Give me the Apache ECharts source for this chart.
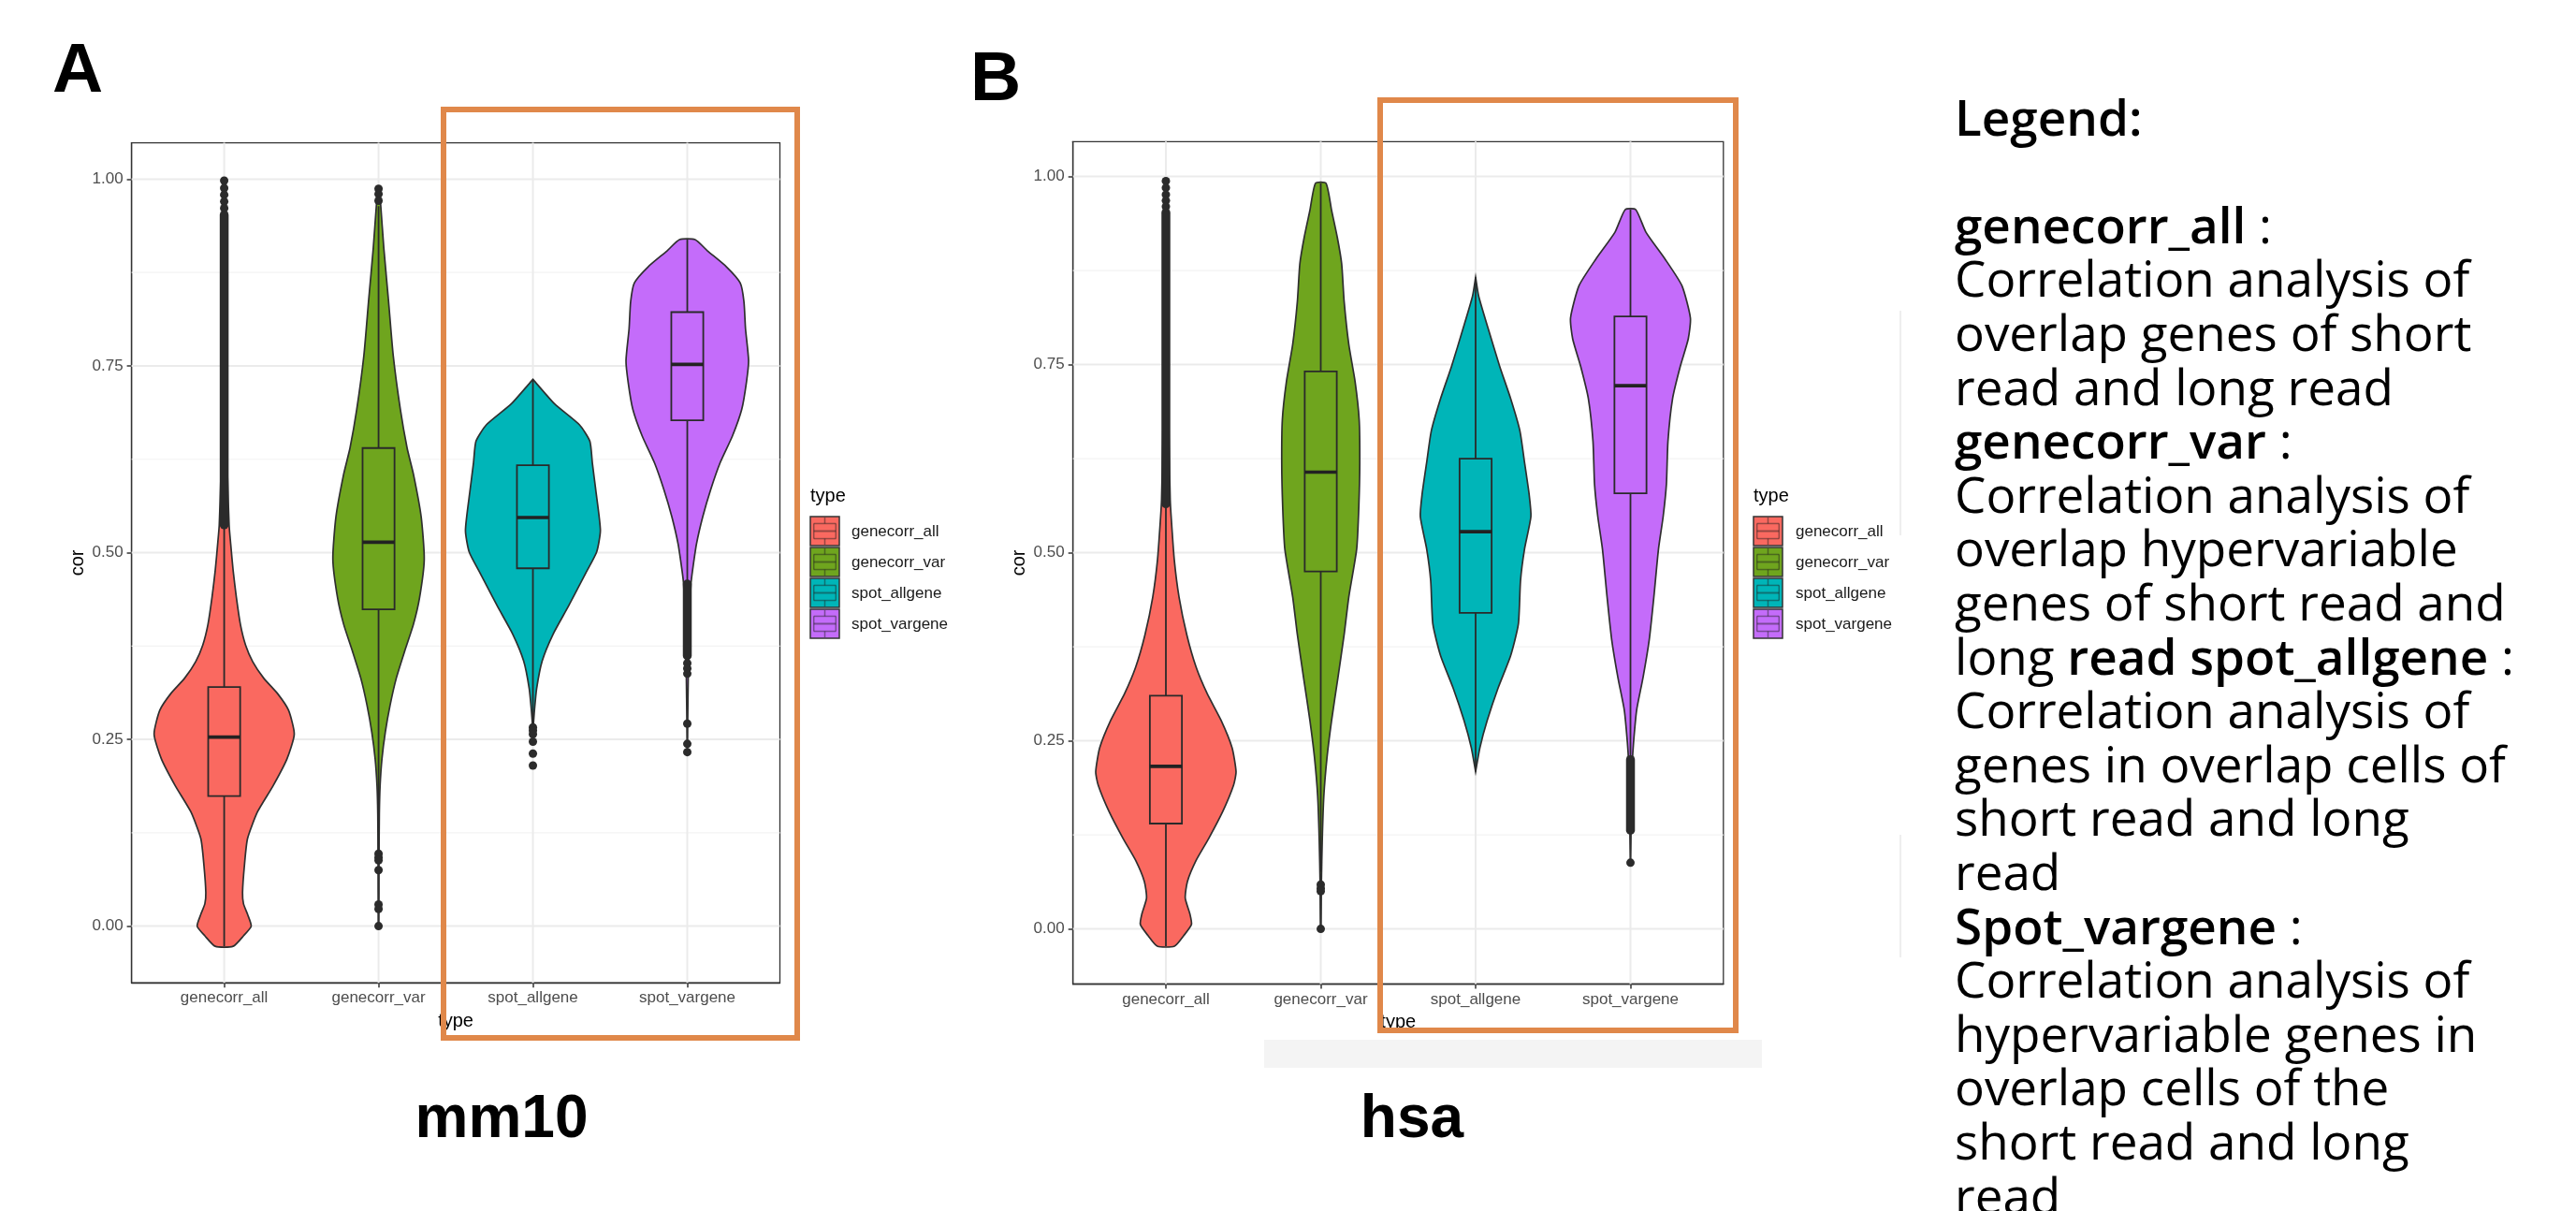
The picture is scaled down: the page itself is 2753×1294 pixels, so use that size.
<!DOCTYPE html>
<html><head><meta charset="utf-8">
<script src="https://cdn.jsdelivr.net/npm/echarts@6/dist/echarts.min.js"></script>
<style>html,body{margin:0;padding:0;background:#fff}#c{width:2753px;height:1294px}</style>
</head><body><div id="c"></div><script>
// ---------- data ----------
const categories = ['genecorr_all', 'genecorr_var', 'spot_allgene', 'spot_vargene'];
const catPos = [1, 2, 3, 4];
const yTicks = [0, 0.25, 0.5, 0.75, 1.0];
const yMinor = [0.125, 0.375, 0.625, 0.875];
const fills = ['#FA6960', '#6FA51E', '#00B5B8', '#C46CFA'];

// violin profiles: [cor, half-width in category units]
// Panel A (mm10)
const vA_genecorr_all = [[-0.027,0.058],[-0.013,0.125],[0.0,0.175],[0.016,0.151],[0.030,0.125],[0.045,0.119],[0.081,0.131],[0.117,0.151],[0.153,0.216],[0.188,0.317],[0.224,0.407],[0.257,0.454],[0.289,0.417],[0.311,0.347],[0.332,0.256],[0.354,0.185],[0.376,0.139],[0.404,0.105],[0.440,0.079],[0.476,0.058],[0.512,0.042],[0.537,0.032],[0.6,0.022],[0.7,0.014],[0.8,0.009],[0.9,0.006],[0.998,0.003]];
const vA_genecorr_var = [[0.0,0.002],[0.09,0.003],[0.15,0.005],[0.188,0.010],[0.224,0.022],[0.26,0.044],[0.296,0.075],[0.332,0.115],[0.368,0.169],[0.404,0.226],[0.44,0.266],[0.491,0.296],[0.548,0.276],[0.605,0.226],[0.64,0.185],[0.692,0.141],[0.764,0.095],[0.836,0.065],[0.908,0.034],[0.965,0.014],[0.987,0.004]];
const vA_spot_allgene = [[0.268,0.002],[0.289,0.010],[0.318,0.024],[0.355,0.060],[0.391,0.131],[0.429,0.232],[0.473,0.343],[0.501,0.413],[0.530,0.437],[0.584,0.407],[0.620,0.385],[0.649,0.369],[0.671,0.302],[0.699,0.141],[0.732,0.0]];
const vA_spot_vargene = [[0.233,0.001],[0.28,0.003],[0.33,0.006],[0.40,0.012],[0.458,0.024],[0.476,0.034],[0.512,0.060],[0.548,0.100],[0.584,0.151],[0.620,0.212],[0.656,0.292],[0.692,0.353],[0.728,0.383],[0.757,0.397],[0.800,0.377],[0.836,0.367],[0.861,0.343],[0.883,0.252],[0.904,0.131],[0.919,0.050]];
// Panel B (hsa)
const vB_genecorr_all = [[-0.023,0.056],[-0.009,0.115],[0.006,0.165],[0.020,0.155],[0.041,0.125],[0.063,0.139],[0.091,0.195],[0.120,0.276],[0.156,0.367],[0.191,0.437],[0.209,0.453],[0.241,0.427],[0.277,0.357],[0.313,0.266],[0.348,0.195],[0.391,0.135],[0.441,0.085],[0.491,0.054],[0.548,0.034],[0.570,0.028],[0.65,0.020],[0.75,0.013],[0.85,0.008],[0.95,0.005],[0.994,0.003]];
const vB_genecorr_var = [[0.0,0.002],[0.059,0.004],[0.12,0.010],[0.177,0.020],[0.227,0.040],[0.277,0.070],[0.334,0.111],[0.391,0.151],[0.441,0.181],[0.505,0.232],[0.562,0.246],[0.620,0.252],[0.677,0.248],[0.727,0.222],[0.777,0.181],[0.834,0.151],[0.884,0.135],[0.919,0.107],[0.955,0.070],[0.991,0.034]];
const vB_spot_allgene = [[0.209,0.0],[0.241,0.028],[0.277,0.075],[0.320,0.145],[0.363,0.226],[0.405,0.276],[0.463,0.290],[0.505,0.316],[0.548,0.357],[0.577,0.346],[0.620,0.316],[0.662,0.286],[0.705,0.226],[0.748,0.155],[0.798,0.081],[0.841,0.020],[0.866,0.0]];
const vB_spot_vargene = [[0.088,0.001],[0.15,0.005],[0.22,0.012],[0.248,0.020],[0.291,0.040],[0.334,0.081],[0.384,0.121],[0.441,0.151],[0.505,0.181],[0.548,0.211],[0.591,0.232],[0.648,0.242],[0.705,0.272],[0.748,0.322],[0.784,0.373],[0.812,0.387],[0.855,0.332],[0.891,0.221],[0.926,0.100],[0.956,0.034]];

// box stats: [lower whisker, Q1, median, Q3, upper whisker]
const boxA = [[-0.027,0.174,0.253,0.320,0.537],[0.10,0.424,0.514,0.640,0.964],[0.27,0.479,0.547,0.617,0.732],[0.46,0.677,0.752,0.822,0.919]];
const boxB = [[-0.023,0.140,0.216,0.310,0.565],[0.076,0.475,0.607,0.741,0.991],[0.209,0.420,0.528,0.625,0.866],[0.226,0.579,0.722,0.814,0.956]];

// outliers: [category position, cor]
const outA = [[1,0.998],[1,0.988],[1,0.979],[1,0.970],[1,0.961],
  [2,0.987],[2,0.980],[2,0.971],[2,0.097],[2,0.092],[2,0.088],[2,0.075],[2,0.029],[2,0.023],[2,0.0],
  [3,0.266],[3,0.262],[3,0.257],[3,0.247],[3,0.231],[3,0.215],
  [4,0.352],[4,0.345],[4,0.338],[4,0.271],[4,0.244],[4,0.233]];
const outB = [[1,0.994],[1,0.985],[1,0.976],[1,0.968],[1,0.960],
  [2,0.059],[2,0.054],[2,0.050],[2,0.0],
  [4,0.088]];
// dense outlier runs: [category position, from, to]
const runA = [[1,0.537,0.952],[4,0.362,0.458]];
const runB = [[1,0.565,0.952],[4,0.131,0.225]];

const legendLines = [
  [['b','Legend:']],
  [],
  [['b','genecorr_all'],['n',' :']],
  [['n','Correlation analysis of']],
  [['n','overlap genes of short']],
  [['n','read and long read']],
  [['b','genecorr_var'],['n',' :']],
  [['n','Correlation analysis of']],
  [['n','overlap hypervariable']],
  [['n','genes of short read and']],
  [['n','long '],['b','read spot_allgene'],['n',' :']],
  [['n','Correlation analysis of']],
  [['n','genes in overlap cells of']],
  [['n','short read and long']],
  [['n','read']],
  [['b','Spot_vargene'],['n',' :']],
  [['n','Correlation analysis of']],
  [['n','hypervariable genes in']],
  [['n','overlap cells of the']],
  [['n','short read and long']],
  [['n','read']]
];

// ---------- chart ----------
const FF = '"Liberation Sans", Arial, Helvetica, sans-serif';
const panels = [
  {grid:{left:140.6, top:152.6, width:692.9, height:897.6}, ymin:-0.0759, ymax:1.0486,
   violins:[vA_genecorr_all,vA_genecorr_var,vA_spot_allgene,vA_spot_vargene], box:boxA, out:outA, run:runA},
  {grid:{left:1146.7, top:151.3, width:695.1, height:900.2}, ymin:-0.0733, ymax:1.0464,
   violins:[vB_genecorr_all,vB_genecorr_var,vB_spot_allgene,vB_spot_vargene], box:boxB, out:outB, run:runB}
];
const BOXW = 0.207;
const grids = [], xAxes = [], yAxes = [], series = [];
panels.forEach((P, p) => {
  grids.push(Object.assign({show:true, borderColor:'#333', borderWidth:1.3, backgroundColor:'#fff', containLabel:false}, P.grid));
  xAxes.push({gridIndex:p, type:'value', min:0.4, max:4.6, name:'type', nameLocation:'middle', nameGap:31,
    nameTextStyle:{fontSize:20, color:'#000', fontFamily:FF},
    axisLine:{show:true, onZero:false, lineStyle:{color:'#333', width:1.3}},
    axisTick:{show:true, length:5, customValues:catPos, lineStyle:{color:'#333', width:1.5}},
    axisLabel:{customValues:catPos, formatter:v=>categories[Math.round(v)-1], fontSize:17, color:'#4d4d4d', margin:8, fontFamily:FF},
    splitLine:{show:false}});
  yAxes.push({gridIndex:p, type:'value', min:P.ymin, max:P.ymax, name:'cor', nameLocation:'middle', nameGap:47, nameRotate:90,
    nameTextStyle:{fontSize:20, color:'#000', fontFamily:FF},
    axisLine:{show:true, onZero:false, lineStyle:{color:'#333', width:1.3}},
    axisTick:{show:true, length:5, customValues:yTicks, lineStyle:{color:'#333', width:1.5}},
    axisLabel:{customValues:yTicks, formatter:v=>v.toFixed(2), fontSize:17, color:'#4d4d4d', margin:9, fontFamily:FF},
    splitLine:{show:false}});
  // grid lines
  series.push({type:'custom', xAxisIndex:p, yAxisIndex:p, z:1, silent:true,
    data: yMinor.map(v=>[1,v]),
    renderItem:(params, api)=>{const cs=params.coordSys; const y=api.coord([1,api.value(1)])[1];
      return {type:'line', shape:{x1:cs.x, y1:y, x2:cs.x+cs.width, y2:y}, style:{stroke:'#F3F3F3', lineWidth:1.2}};}});
  series.push({type:'custom', xAxisIndex:p, yAxisIndex:p, z:1, silent:true,
    data: yTicks.map(v=>[1,v]),
    renderItem:(params, api)=>{const cs=params.coordSys; const y=api.coord([1,api.value(1)])[1];
      return {type:'line', shape:{x1:cs.x, y1:y, x2:cs.x+cs.width, y2:y}, style:{stroke:'#EBEBEB', lineWidth:2}};}});
  series.push({type:'custom', xAxisIndex:p, yAxisIndex:p, z:1, silent:true,
    data: catPos.map(c=>[c,0]),
    renderItem:(params, api)=>{const cs=params.coordSys; const x=api.coord([api.value(0),0])[0];
      return {type:'line', shape:{x1:x, y1:cs.y, x2:x, y2:cs.y+cs.height}, style:{stroke:'#EBEBEB', lineWidth:2}};}});
  // violins
  series.push({type:'custom', xAxisIndex:p, yAxisIndex:p, z:2, silent:true,
    data: catPos.map(c=>[c,0]),
    renderItem:(params, api)=>{
      const prof = P.violins[params.dataIndex]; const cx = api.value(0); const pts = [];
      for (const [v,w] of prof) pts.push(api.coord([cx+w, v]));
      for (let k=prof.length-1;k>=0;k--) pts.push(api.coord([cx-prof[k][1], prof[k][0]]));
      return {type:'polygon', shape:{points:pts, smooth:0.2}, style:{fill:fills[params.dataIndex], stroke:'#2f2f2f', lineWidth:1.7}};
    }});
  // boxes
  series.push({type:'custom', xAxisIndex:p, yAxisIndex:p, z:3, silent:true,
    data: P.box.map((b,i)=>[catPos[i]].concat(b)),
    renderItem:(params, api)=>{
      const cx=api.value(0);
      const lo=api.coord([cx,api.value(1)]), q1=api.coord([cx,api.value(2)]), md=api.coord([cx,api.value(3)]),
            q3=api.coord([cx,api.value(4)]), hi=api.coord([cx,api.value(5)]);
      const hw=api.size([BOXW,0])[0]/2; const col=fills[params.dataIndex]; const st='#2a2a2a';
      return {type:'group', children:[
        {type:'line', shape:{x1:lo[0],y1:lo[1],x2:q1[0],y2:q1[1]}, style:{stroke:st,lineWidth:1.8}},
        {type:'line', shape:{x1:q3[0],y1:q3[1],x2:hi[0],y2:hi[1]}, style:{stroke:st,lineWidth:1.8}},
        {type:'rect', shape:{x:q3[0]-hw, y:q3[1], width:2*hw, height:q1[1]-q3[1]}, style:{fill:col, stroke:st, lineWidth:1.8}},
        {type:'line', shape:{x1:md[0]-hw,y1:md[1],x2:md[0]+hw,y2:md[1]}, style:{stroke:'#222',lineWidth:3.6}}
      ]};
    }});
  // dense outlier runs
  series.push({type:'custom', xAxisIndex:p, yAxisIndex:p, z:4, silent:true,
    data: P.run,
    renderItem:(params, api)=>{
      const a=api.coord([api.value(0),api.value(1)]), b=api.coord([api.value(0),api.value(2)]);
      return {type:'line', shape:{x1:a[0],y1:a[1],x2:b[0],y2:b[1]}, style:{stroke:'#2b2b2b', lineWidth:9.5, lineCap:'round'}};
    }});
  // outlier points
  series.push({type:'scatter', xAxisIndex:p, yAxisIndex:p, z:5, silent:true, data:P.out, symbol:'circle', symbolSize:9,
    itemStyle:{color:'#2b2b2b', opacity:1}});
});

// ---------- graphics ----------
const g = [];
function key(x, y, col) {
  const w=31, h=31, dk='rgba(30,30,30,0.45)';
  const el = [
    {type:'rect', shape:{x:x, y:y, width:w, height:h}, style:{fill:col, stroke:'#333', lineWidth:1.5}},
    {type:'line', shape:{x1:x+w*0.12,y1:y+h*0.24,x2:x+w*0.88,y2:y+h*0.24}, style:{stroke:dk,lineWidth:1.5}},
    {type:'line', shape:{x1:x+w*0.12,y1:y+h*0.5,x2:x+w*0.88,y2:y+h*0.5}, style:{stroke:dk,lineWidth:2}},
    {type:'line', shape:{x1:x+w*0.12,y1:y+h*0.76,x2:x+w*0.88,y2:y+h*0.76}, style:{stroke:dk,lineWidth:1.5}},
    {type:'line', shape:{x1:x+w*0.12,y1:y+h*0.24,x2:x+w*0.12,y2:y+h*0.76}, style:{stroke:dk,lineWidth:1.5}},
    {type:'line', shape:{x1:x+w*0.88,y1:y+h*0.24,x2:x+w*0.88,y2:y+h*0.76}, style:{stroke:dk,lineWidth:1.5}},
    {type:'line', shape:{x1:x+w*0.5,y1:y+1,x2:x+w*0.5,y2:y+h*0.24}, style:{stroke:dk,lineWidth:1.5}},
    {type:'line', shape:{x1:x+w*0.5,y1:y+h*0.76,x2:x+w*0.5,y2:y+h-1}, style:{stroke:dk,lineWidth:1.5}}
  ];
  el.forEach(e=>{e.z=50; e.silent=true; g.push(e);});
}
[[866,910],[1874,1919]].forEach(([kx,tx])=>{
  g.push({type:'text', x:kx, y:530, z:50, style:{text:'type', fontSize:20, fontFamily:FF, fill:'#000', verticalAlign:'middle', align:'left'}});
  categories.forEach((c,i)=>{
    key(kx, 552+33*i, fills[i]);
    g.push({type:'text', x:tx, y:568+33*i, z:50, style:{text:c, fontSize:17, fontFamily:FF, fill:'#1a1a1a', verticalAlign:'middle', align:'left'}});
  });
});
// panel letters and titles
g.push({type:'text', x:56, y:77, z:50, style:{text:'A', fontSize:75, fontWeight:'bold', fontFamily:FF, fill:'#000', verticalAlign:'middle'}});
g.push({type:'text', x:1037, y:86, z:50, style:{text:'B', fontSize:75, fontWeight:'bold', fontFamily:FF, fill:'#000', verticalAlign:'middle'}});
g.push({type:'text', x:536, y:1197, z:50, style:{text:'mm10', fontSize:64, fontWeight:'bold', fontFamily:FF, fill:'#000', verticalAlign:'middle', align:'center'}});
g.push({type:'text', x:1509, y:1197, z:50, style:{text:'hsa', fontSize:64, fontWeight:'bold', fontFamily:FF, fill:'#000', verticalAlign:'middle', align:'center'}});
// faint artifacts
g.push({type:'rect', z:0, shape:{x:1351, y:1111, width:532, height:30}, style:{fill:'#F4F4F4'}});
g.push({type:'line', z:0, shape:{x1:2031,y1:332,x2:2031,y2:572}, style:{stroke:'#EEEEEE', lineWidth:2}});
g.push({type:'line', z:0, shape:{x1:2031,y1:892,x2:2031,y2:1023}, style:{stroke:'#EEEEEE', lineWidth:2}});
// orange highlight boxes
g.push({type:'rect', z:100, shape:{x:474, y:117, width:378, height:992}, style:{fill:'none', stroke:'#E0884A', lineWidth:6}});
g.push({type:'rect', z:100, shape:{x:1475, y:107, width:380, height:994}, style:{fill:'none', stroke:'#E0884A', lineWidth:6}});
// text legend
const OS = '"Open Sans", "Noto Sans", sans-serif';
legendLines.forEach((segs, i)=>{
  if (!segs.length) return;
  const base = 150 + 57.6*i;
  g.push({type:'text', x:2089, y:base-20.5, z:50, style:{
    text: segs.map(s=>'{'+s[0]+'|'+s[1]+'}').join(''),
    verticalAlign:'middle', align:'left',
    rich:{ b:{fontSize:53, fontWeight:600, fontFamily:OS, fill:'#000', lineHeight:60},
           n:{fontSize:53, fontWeight:400, fontFamily:OS, fill:'#000', lineHeight:60} }
  }});
});

const chart = echarts.init(document.getElementById('c'), null, {renderer:'canvas', width:2753, height:1294});
chart.setOption({
  animation:false, backgroundColor:'#fff',
  textStyle:{fontFamily:FF},
  grid:grids, xAxis:xAxes, yAxis:yAxes, series:series, graphic:{elements:g}
});
</script></body></html>
